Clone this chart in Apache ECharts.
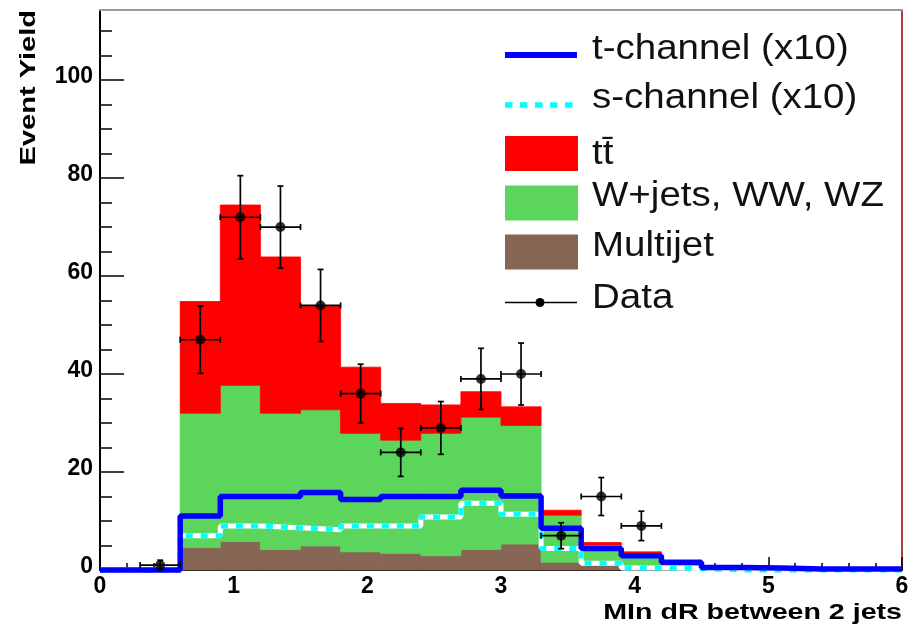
<!DOCTYPE html>
<html>
<head>
<meta charset="utf-8">
<script src="https://cdn.jsdelivr.net/npm/echarts@6/dist/echarts.min.js"></script>
<style>
  html, body { margin: 0; padding: 0; background: #ffffff; }
  #chart { width: 918px; height: 632px; }
</style>
</head>
<body>
<div id="chart"></div>
<script>
// Histogram bin edges (Min dR between the two jets)
const binEdges = [0.0, 0.3, 0.6, 0.9, 1.2, 1.5, 1.8, 2.1, 2.4, 2.7, 3.0,
                  3.3, 3.6, 3.9, 4.2, 4.5, 4.8, 5.1, 5.4, 5.7, 6.0];

// Stacked backgrounds, per bin
const multijet = [0, 0, 4.6, 5.8, 4.2, 4.9, 3.7, 3.4, 2.9, 4.2, 5.3, 1.6, 1.0, 0.3, 0.1, 0, 0, 0, 0, 0];
const wjets    = [0, 0, 27.4, 31.9, 27.8, 27.8, 24.2, 23.1, 25.0, 27.0, 24.2, 9.6, 4.1, 3.0, 1.0, 0.3, 0, 0, 0, 0];
const ttbar    = [0, 0, 22.8, 36.8, 31.9, 21.2, 13.5, 7.5, 5.8, 5.2, 3.8, 1.0, 0.5, 0.4, 0.2, 0, 0, 0, 0, 0];

// Single-top signals, scaled by 10
const tChannel = [0, 0, 11.0, 15.0, 15.0, 15.8, 14.4, 15.0, 15.0, 16.3, 15.1, 8.5, 4.4, 2.9, 1.6, 0.5, 0.4, 0.2, 0.2, 0.2];
const sChannel = [0, 0, 7.0, 9.0, 8.6, 8.2, 9.0, 9.0, 10.8, 13.6, 11.4, 4.4, 1.4, 0.4, 0.3, 0, 0, 0, 0, 0];

// Observed events per bin
const dataCounts = [0, 1, 47, 72, 70, 54, 36, 24, 29, 39, 40, 7, 15, 9, 0, 0, 0, 0, 0, 0];

// Axis tick values
const yMajorTicks = [0, 20, 40, 60, 80, 100];
const yMinorTicks = [5, 10, 15, 25, 30, 35, 45, 50, 55, 65, 70, 75, 85, 90, 95, 105, 110];

const COLORS = {
  multijet: '#886656',
  wjets: '#5bd55b',
  ttbar: '#ff0000',
  tch: '#0000ff',
  sch: '#00ffff'
};
const FONT = '"Liberation Sans", Arial, Helvetica, sans-serif';

// Build stacked rectangles: [lo, hi, base, top]
const layers = [
  { name: 'Multijet', values: multijet, color: COLORS.multijet },
  { name: 'W+jets, WW, WZ', values: wjets, color: COLORS.wjets },
  { name: 'tt\u0304', values: ttbar, color: COLORS.ttbar }
];
const base = new Array(multijet.length).fill(0);
const stackSeries = layers.map(layer => {
  const rows = [];
  layer.values.forEach((v, i) => {
    if (v > 0) rows.push([binEdges[i], binEdges[i + 1], base[i], base[i] + v]);
    base[i] += v;
  });
  return {
    type: 'custom',
    name: layer.name,
    xAxisIndex: 0, yAxisIndex: 0,
    silent: true,
    data: rows,
    encode: { x: [0, 1], y: [2, 3] },
    renderItem: function (params, api) {
      const p0 = api.coord([api.value(0), api.value(3)]);
      const p1 = api.coord([api.value(1), api.value(2)]);
      return {
        type: 'rect',
        shape: { x: p0[0], y: p0[1], width: p1[0] - p0[0], height: p1[1] - p0[1] },
        style: { fill: layer.color, stroke: layer.color, lineWidth: 0.8 }
      };
    }
  };
});

// Step outline helper: point at each left edge, plus closing point at last edge
function stepData(values) {
  const pts = values.map((v, i) => [binEdges[i], v]);
  pts.push([binEdges[binEdges.length - 1], values[values.length - 1]]);
  return pts;
}

// Data points with Poisson errors and bin-width horizontal bars
const dataRows = [];
dataCounts.forEach((n, i) => {
  if (n > 0) {
    const lo = binEdges[i], hi = binEdges[i + 1];
    dataRows.push([(lo + hi) / 2, n, Math.sqrt(n), lo, hi]);
  }
});

const chart = echarts.init(document.getElementById('chart'), null, { renderer: 'canvas' });

const axisLabelStyle = { color: '#000', fontSize: 23, fontWeight: 'bold', fontFamily: FONT };

chart.setOption({
  backgroundColor: '#ffffff',
  animation: false,
  grid: { left: 100, right: 16, top: 10, bottom: 62, containLabel: false },
  xAxis: [
    {
      type: 'value', min: 0, max: 6, interval: 1, position: 'bottom',
      axisLine: { show: true, onZero: false, lineStyle: { color: '#000', width: 2 } },
      axisTick: { show: true, inside: true, length: 13, lineStyle: { color: '#000', width: 1.5 } },
      minorTick: { show: true, splitNumber: 5, length: 7, lineStyle: { color: '#000', width: 1.5 } },
      splitLine: { show: false },
      axisLabel: Object.assign({ margin: 5 }, axisLabelStyle)
    },
    {
      type: 'value', min: 0, max: 6, position: 'top',
      axisLine: { show: true, onZero: false, lineStyle: { color: '#9a9a9a', width: 2 } },
      axisTick: { show: false }, axisLabel: { show: false }, splitLine: { show: false }
    }
  ],
  yAxis: [
    {
      type: 'value', min: 0, max: 114.3, position: 'left',
      axisLine: { show: true, onZero: false, lineStyle: { color: '#000', width: 2 } },
      axisTick: { show: true, inside: true, length: 24, customValues: yMajorTicks,
                  lineStyle: { color: '#000', width: 1.5 } },
      splitLine: { show: false },
      axisLabel: Object.assign({ margin: 7, customValues: yMajorTicks,
                                 verticalAlign: 'bottom', lineHeight: 7 }, axisLabelStyle)
    },
    {
      type: 'value', min: 0, max: 114.3, position: 'left',
      axisLine: { show: false },
      axisTick: { show: true, inside: true, length: 12, customValues: yMinorTicks,
                  lineStyle: { color: '#000', width: 1.5 } },
      axisLabel: { show: false }, splitLine: { show: false }
    },
    {
      type: 'value', min: 0, max: 114.3, position: 'right',
      axisLine: { show: true, onZero: false, lineStyle: { color: '#a8403f', width: 2 } },
      axisTick: { show: false }, axisLabel: { show: false }, splitLine: { show: false }
    }
  ],
  series: stackSeries.concat([
    {
      type: 'line', name: 's-channel underlay', step: 'end', clip: false, silent: true,
      showSymbol: false, data: stepData(sChannel),
      lineStyle: { color: '#ffffff', width: 5 }, z: 3
    },
    {
      type: 'line', name: 's-channel (x10)', step: 'end', clip: false, silent: true,
      showSymbol: false, data: stepData(sChannel),
      lineStyle: { color: COLORS.sch, width: 5, type: [7, 8] }, z: 4
    },
    {
      type: 'line', name: 't-channel (x10)', step: 'end', clip: false, silent: true,
      showSymbol: false, data: stepData(tChannel),
      lineStyle: { color: COLORS.tch, width: 5.5 }, z: 5
    },
    {
      type: 'custom', name: 'Data errors', silent: true, z: 6,
      data: dataRows,
      encode: { x: 0, y: 1 },
      renderItem: function (params, api) {
        const x = api.value(0), y = api.value(1), e = api.value(2);
        const c = api.coord([x, y]);
        const top = api.coord([x, y + e]);
        const bot = api.coord([x, y - e]);
        const left = api.coord([api.value(3), y]);
        const right = api.coord([api.value(4), y]);
        const st = { stroke: '#000', lineWidth: 1.7 };
        const cap = 3;
        return {
          type: 'group',
          children: [
            { type: 'line', shape: { x1: c[0], y1: top[1], x2: c[0], y2: bot[1] }, style: st },
            { type: 'line', shape: { x1: left[0], y1: c[1], x2: right[0], y2: c[1] }, style: st },
            { type: 'line', shape: { x1: c[0] - cap, y1: top[1], x2: c[0] + cap, y2: top[1] }, style: st },
            { type: 'line', shape: { x1: c[0] - cap, y1: bot[1], x2: c[0] + cap, y2: bot[1] }, style: st },
            { type: 'line', shape: { x1: left[0], y1: c[1] - cap, x2: left[0], y2: c[1] + cap }, style: st },
            { type: 'line', shape: { x1: right[0], y1: c[1] - cap, x2: right[0], y2: c[1] + cap }, style: st }
          ]
        };
      }
    },
    {
      type: 'scatter', name: 'Data', silent: true, z: 7,
      data: dataRows.map(r => [r[0], r[1]]),
      symbol: 'circle', symbolSize: 10,
      itemStyle: { color: '#000' }
    }
  ]),
  graphic: [
    // axis titles
    {
      type: 'text', x: 29, y: 10, rotation: Math.PI / 2, scaleX: 1.32,
      style: { text: 'Event Yield', font: 'bold 22px ' + FONT, fill: '#000',
               align: 'right', verticalAlign: 'middle' }
    },
    {
      type: 'text', x: 902, y: 612.5, scaleX: 1.3,
      style: { text: 'MIn dR between 2 jets', font: 'bold 22px ' + FONT, fill: '#000',
               align: 'right', verticalAlign: 'middle' }
    },
    // legend
    { type: 'line', shape: { x1: 505, y1: 55, x2: 577, y2: 55 }, style: { stroke: COLORS.tch, lineWidth: 6 } },
    { type: 'line', shape: { x1: 505, y1: 105, x2: 573, y2: 105 }, style: { stroke: COLORS.sch, lineWidth: 5.5, lineDash: [7.5, 7.5] } },
    { type: 'rect', shape: { x: 505, y: 136, width: 73, height: 35 }, style: { fill: COLORS.ttbar } },
    { type: 'rect', shape: { x: 505, y: 185.5, width: 73, height: 35 }, style: { fill: COLORS.wjets } },
    { type: 'rect', shape: { x: 505, y: 234.5, width: 73, height: 35 }, style: { fill: COLORS.multijet } },
    { type: 'line', shape: { x1: 505, y1: 302.5, x2: 577, y2: 302.5 }, style: { stroke: '#000', lineWidth: 1.5 } },
    { type: 'circle', shape: { cx: 540, cy: 302.5, r: 4.5 }, style: { fill: '#000' } },
    { type: 'text', x: 592, y: 49.5, scaleX: 1.1, style: { text: 't-channel (x10)', font: '35px ' + FONT, fill: '#111', align: 'left', verticalAlign: 'middle' } },
    { type: 'text', x: 592, y: 98, scaleX: 1.1, style: { text: 's-channel (x10)', font: '35px ' + FONT, fill: '#111', align: 'left', verticalAlign: 'middle' } },
    { type: 'text', x: 592, y: 154.5, scaleX: 1.1, style: { text: 'tt\u0304', font: '35px ' + FONT, fill: '#111', align: 'left', verticalAlign: 'middle' } },
    { type: 'text', x: 592, y: 196.5, scaleX: 1.1, style: { text: 'W+jets, WW, WZ', font: '35px ' + FONT, fill: '#111', align: 'left', verticalAlign: 'middle' } },
    { type: 'text', x: 592, y: 246.5, scaleX: 1.1, style: { text: 'Multijet', font: '35px ' + FONT, fill: '#111', align: 'left', verticalAlign: 'middle' } },
    { type: 'text', x: 592, y: 298, scaleX: 1.1, style: { text: 'Data', font: '35px ' + FONT, fill: '#111', align: 'left', verticalAlign: 'middle' } }
  ]
});
</script>
</body>
</html>
